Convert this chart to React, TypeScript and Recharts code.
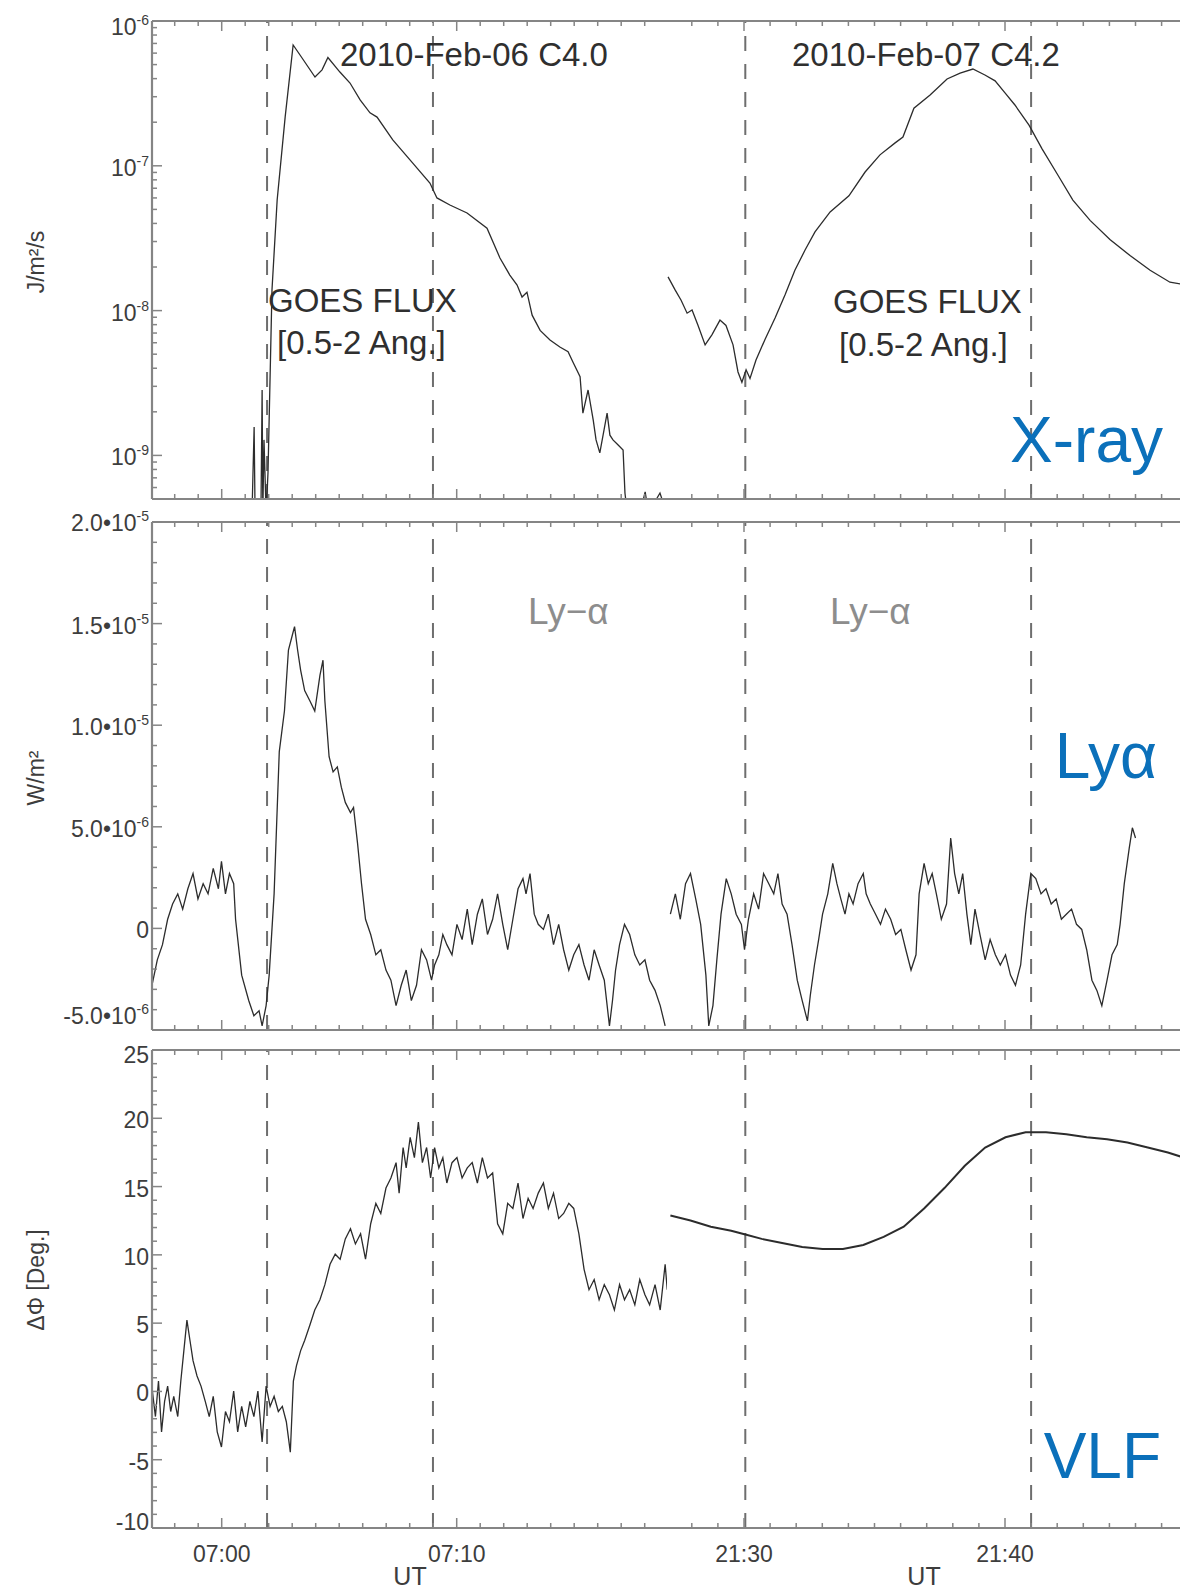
import React from 'react';
import { LineChart, Line, XAxis, YAxis, ReferenceLine } from 'recharts';

type Pt = [number, number];

// time axis: minutes after 07:00 UT (2010-02-06) and after 21:30 UT (2010-02-07)
const feb06Domain: [number, number] = [-2.966, 18.949];
const feb07Domain: [number, number] = [-2.95, 16.973];
const feb06Labels: Record<number, string> = { 0: '07:00', 10: '07:10' };
const feb07Labels: Record<number, string> = { 0: '21:30', 10: '21:40' };
const feb06Marks = [1.93, 8.99];
const feb07Marks = [0.05, 11.0];

// GOES 0.5-2 A flux, W/m^2 (J/m^2/s)
const xrayFeb06: Pt[] = [
  [1.29, 4e-10], [1.38, 1.57e-9], [1.42, 4e-10], [1.67, 4e-10], [1.72, 2.83e-9], [1.75, 4e-10],
  [1.8, 1.28e-9], [1.89, 4e-10], [1.97, 7.6e-10], [2.14, 1.39e-8], [2.36, 5.8e-8], [2.7, 2.17e-7],
  [3.04, 6.83e-7], [3.34, 5.8e-7], [3.97, 4.1e-7], [4.27, 4.6e-7], [4.52, 5.6e-7], [5.03, 4.44e-7],
  [5.46, 3.73e-7], [5.89, 2.85e-7], [6.31, 2.32e-7], [6.61, 2.17e-7], [7.28, 1.51e-7], [8.14, 1.04e-7],
  [8.86, 7.6e-8], [9.16, 6.0e-8], [9.71, 5.36e-8], [10.44, 4.72e-8], [11.29, 3.71e-8], [11.84, 2.31e-8],
  [12.26, 1.76e-8], [12.57, 1.5e-8], [12.78, 1.24e-8], [12.99, 1.34e-8], [13.21, 9.3e-9], [13.55, 7.3e-9],
  [13.97, 6.27e-9], [14.39, 5.6e-9], [14.74, 5.2e-9], [14.95, 4.4e-9], [15.25, 3.5e-9], [15.37, 1.96e-9],
  [15.59, 2.83e-9], [15.81, 1.75e-9], [15.93, 1.28e-9], [16.09, 1.04e-9], [16.27, 1.5e-9], [16.4, 1.96e-9],
  [16.52, 1.38e-9], [16.65, 1.28e-9], [16.87, 1.18e-9], [17.08, 1.09e-9], [17.16, 5.5e-10], [17.26, 4e-10],
  [17.8, 4e-10], [18.02, 5.6e-10], [18.16, 4e-10], [18.65, 5.5e-10], [18.93, 4e-10],
];
const xrayFeb07: Pt[] = [
  [-2.91, 1.71e-8], [-2.64, 1.39e-8], [-2.41, 1.18e-8], [-2.18, 9.6e-9], [-1.99, 1.01e-8], [-1.76, 7.9e-9],
  [-1.49, 5.8e-9], [-1.23, 6.8e-9], [-0.92, 8.6e-9], [-0.69, 7.9e-9], [-0.42, 5.8e-9], [-0.23, 3.77e-9],
  [-0.08, 3.2e-9], [0.08, 3.9e-9], [0.23, 3.4e-9], [0.46, 4.56e-9], [0.8, 6.3e-9], [1.19, 8.9e-9],
  [1.57, 1.28e-8], [1.95, 1.9e-8], [2.34, 2.62e-8], [2.72, 3.5e-8], [3.3, 4.8e-8], [4.02, 6.2e-8],
  [4.64, 9.06e-8], [5.21, 1.19e-7], [5.79, 1.44e-7], [6.09, 1.58e-7], [6.51, 2.5e-7], [7.13, 3.08e-7],
  [7.78, 3.98e-7], [8.28, 4.37e-7], [8.77, 4.66e-7], [9.23, 4.24e-7], [9.62, 3.86e-7], [10.0, 3.19e-7],
  [10.38, 2.63e-7], [10.92, 1.91e-7], [11.42, 1.31e-7], [12.03, 8.6e-8], [12.6, 5.8e-8], [13.26, 4.2e-8],
  [14.02, 3.1e-8], [14.79, 2.4e-8], [15.56, 1.9e-8], [16.32, 1.57e-8], [16.97, 1.5e-8],
];

// Lyman-alpha irradiance change, 1e-6 W/m^2
const lyaFeb06: Pt[] = [
  [-2.95, -2.7], [-2.74, -1.55], [-2.52, -0.8], [-2.3, 0.45], [-2.09, 1.2], [-1.87, 1.7], [-1.66, 0.95],
  [-1.44, 1.95], [-1.22, 2.7], [-1.01, 1.45], [-0.79, 2.2], [-0.58, 1.7], [-0.36, 2.95], [-0.14, 1.95],
  [-0.01, 3.3], [0.16, 1.7], [0.33, 2.7], [0.51, 2.2], [0.59, 0.45], [0.85, -2.3], [1.15, -3.55],
  [1.37, -4.3], [1.59, -4.05], [1.72, -4.8], [1.89, -3.8], [2.02, -2.3], [2.23, 1.7], [2.45, 8.7],
  [2.67, 10.7], [2.84, 13.7], [3.01, 14.45], [3.1, 14.85], [3.23, 13.7], [3.36, 12.7], [3.53, 11.7],
  [3.75, 11.2], [3.96, 10.7], [4.18, 12.45], [4.31, 13.2], [4.39, 11.2], [4.57, 8.45], [4.74, 7.7],
  [4.92, 7.95], [5.09, 6.95], [5.26, 6.2], [5.48, 5.7], [5.61, 5.95], [5.78, 4.2], [5.95, 2.2],
  [6.12, 0.45], [6.34, -0.3], [6.56, -1.3], [6.77, -1.05], [6.99, -2.05], [7.2, -2.55], [7.42, -3.8],
  [7.64, -2.8], [7.85, -2.05], [8.07, -3.55], [8.29, -2.8], [8.5, -1.05], [8.72, -1.55], [8.93, -2.55],
  [9.06, -1.8], [9.24, -1.3], [9.41, -0.3], [9.58, -0.8], [9.8, -1.3], [10.01, 0.2], [10.23, -0.55],
  [10.45, 0.95], [10.66, -0.8], [10.88, 0.7], [11.09, 1.45], [11.31, -0.3], [11.53, 0.45], [11.74, 1.7],
  [11.96, 0.2], [12.17, -1.05], [12.39, 0.45], [12.61, 1.95], [12.82, 2.45], [12.95, 1.7], [13.12, 2.7],
  [13.3, 0.7], [13.47, 0.2], [13.69, -0.05], [13.9, 0.7], [14.12, -0.8], [14.34, 0.2], [14.55, -1.05],
  [14.77, -2.05], [14.98, -1.3], [15.2, -0.8], [15.42, -1.8], [15.63, -2.55], [15.85, -1.05], [16.06, -1.8],
  [16.28, -2.55], [16.5, -4.8], [16.63, -3.55], [16.76, -2.05], [16.93, -0.8], [17.14, 0.2], [17.36, -0.3],
  [17.58, -1.3], [17.79, -1.8], [18.01, -1.55], [18.21, -2.55], [18.44, -3.05], [18.66, -3.8], [18.87, -4.8],
];
const lyaFeb07: Pt[] = [
  [-2.82, 0.7], [-2.63, 1.7], [-2.44, 0.45], [-2.24, 2.2], [-2.05, 2.7], [-1.85, 1.45], [-1.66, 0.2],
  [-1.46, -2.3], [-1.35, -4.8], [-1.19, -3.8], [-1.04, -1.55], [-0.88, 0.7], [-0.68, 2.45], [-0.49, 1.7],
  [-0.3, 0.7], [-0.1, 0.2], [0.02, -1.05], [0.17, 0.45], [0.37, 1.7], [0.56, 0.95], [0.75, 2.7],
  [0.95, 2.2], [1.14, 1.7], [1.3, 2.7], [1.46, 1.2], [1.65, 0.7], [1.84, -0.8], [2.04, -2.55],
  [2.23, -3.55], [2.43, -4.55], [2.54, -3.3], [2.7, -1.8], [2.86, -0.55], [3.01, 0.7], [3.21, 1.7],
  [3.4, 3.2], [3.56, 2.2], [3.71, 1.45], [3.87, 0.7], [4.02, 1.7], [4.18, 1.2], [4.37, 2.2], [4.57, 2.7],
  [4.68, 1.7], [4.84, 1.2], [5.04, 0.7], [5.23, 0.2], [5.42, 0.95], [5.62, 0.45], [5.81, -0.3],
  [6.01, -0.05], [6.2, -1.05], [6.4, -2.05], [6.59, -1.3], [6.71, 1.7], [6.9, 3.2], [7.06, 2.2],
  [7.21, 2.7], [7.37, 1.7], [7.56, 0.45], [7.76, 1.2], [7.92, 4.45], [8.07, 2.7], [8.23, 1.7], [8.38, 2.7],
  [8.54, 0.7], [8.69, -0.8], [8.85, 0.95], [9.04, -0.3], [9.24, -1.55], [9.43, -0.55], [9.63, -1.3],
  [9.82, -1.8], [10.02, -1.3], [10.21, -2.3], [10.4, -2.8], [10.6, -1.8], [10.79, 0.7], [10.99, 2.7],
  [11.18, 2.45], [11.38, 1.7], [11.57, 1.95], [11.77, 1.2], [11.96, 1.45], [12.16, 0.45], [12.35, 0.7],
  [12.55, 0.95], [12.74, 0.2], [12.94, -0.05], [13.13, -1.05], [13.33, -2.55], [13.52, -3.05], [13.71, -3.8],
  [13.91, -2.55], [14.1, -1.3], [14.3, -0.8], [14.41, 0.2], [14.57, 2.2], [14.76, 3.95], [14.88, 4.95],
  [15.0, 4.45],
];

// VLF phase change, degrees
const vlfFeb06: Pt[] = [
  [-2.95, 0.02], [-2.82, -1.84], [-2.69, 0.76], [-2.56, -2.96], [-2.43, -0.73], [-2.3, 0.39], [-2.17, -1.47],
  [-2.04, -0.36], [-1.87, -1.84], [-1.74, 0.76], [-1.61, 2.99], [-1.48, 5.22], [-1.35, 3.73], [-1.22, 2.25],
  [-1.05, 1.13], [-0.88, 0.39], [-0.7, -0.73], [-0.53, -1.84], [-0.36, -0.36], [-0.19, -2.96], [-0.01, -4.07],
  [0.16, -1.47], [0.33, -2.22], [0.51, 0.02], [0.68, -2.96], [0.85, -1.1], [1.02, -2.59], [1.2, -0.73],
  [1.37, -1.84], [1.54, 0.02], [1.72, -3.7], [1.89, 0.39], [2.06, -1.1], [2.23, -0.36], [2.41, -1.47],
  [2.58, -1.1], [2.75, -2.22], [2.92, -4.45], [3.05, 0.76], [3.18, 1.87], [3.36, 2.99], [3.53, 3.73],
  [3.75, 4.85], [3.96, 5.96], [4.18, 6.71], [4.39, 7.82], [4.61, 9.31], [4.83, 10.05], [5.04, 9.68],
  [5.26, 11.17], [5.48, 11.91], [5.69, 10.8], [5.91, 11.54], [6.12, 9.68], [6.34, 12.28], [6.56, 13.77],
  [6.77, 13.03], [6.99, 14.89], [7.2, 15.63], [7.42, 16.75], [7.55, 14.52], [7.72, 17.86], [7.85, 16.37],
  [8.02, 18.61], [8.2, 17.12], [8.37, 19.72], [8.54, 16.75], [8.72, 17.86], [8.89, 15.63], [9.06, 17.86],
  [9.24, 16.37], [9.41, 17.12], [9.58, 15.26], [9.8, 16.75], [10.01, 17.12], [10.23, 15.63], [10.45, 16.37],
  [10.66, 16.75], [10.88, 15.26], [11.09, 17.12], [11.31, 15.63], [11.53, 16.0], [11.74, 12.28], [11.96, 11.54],
  [12.17, 13.77], [12.39, 13.4], [12.61, 15.26], [12.82, 12.66], [13.04, 14.14], [13.25, 13.4], [13.47, 14.52],
  [13.69, 15.26], [13.9, 13.4], [14.12, 14.52], [14.34, 12.66], [14.55, 13.03], [14.77, 13.77], [14.98, 13.4],
  [15.2, 11.54], [15.42, 8.94], [15.63, 7.45], [15.85, 8.19], [16.06, 6.71], [16.28, 7.82], [16.5, 7.08],
  [16.71, 5.96], [16.93, 7.82], [17.14, 6.71], [17.36, 7.45], [17.58, 6.34], [17.79, 8.19], [18.01, 7.08],
  [18.21, 6.34], [18.44, 7.82], [18.66, 5.96], [18.87, 9.31], [18.96, 7.45],
];
const vlfFeb07: Pt[] = [
  [-2.82, 12.88], [-2.05, 12.51], [-1.27, 12.06], [-0.49, 11.76], [0.09, 11.47], [0.68, 11.17], [1.46, 10.87],
  [2.23, 10.57], [3.01, 10.43], [3.79, 10.43], [4.57, 10.72], [5.35, 11.32], [6.12, 12.06], [6.9, 13.4],
  [7.68, 14.89], [8.46, 16.52], [9.24, 17.86], [10.02, 18.61], [10.79, 18.98], [11.57, 18.98], [12.35, 18.83],
  [13.13, 18.61], [13.91, 18.46], [14.69, 18.23], [15.47, 17.86], [16.24, 17.49], [16.97, 17.05],
];

const xrayMajors = [1e-9, 1e-8, 1e-7, 1e-6];
const lyaMajors = [-5, 0, 5, 10, 15, 20];
const lyaLabels: Record<number, [string, string]> = {
  20: ['2.0•10', '-5'], 15: ['1.5•10', '-5'], 10: ['1.0•10', '-5'],
  5: ['5.0•10', '-6'], 0: ['0', ''], [-5]: ['-5.0•10', '-6'],
};
const vlfMajors = [-10, -5, 0, 5, 10, 15, 20, 25];

const FONT = '"Liberation Sans", Arial, Helvetica, sans-serif';
const AXIS = '#858585';
const INK = '#3d3d3d';
const TRACE = '#2c2c2c';
const BLUE = '#0b70ba';

const PLOT_LEFT = 152;
const BREAK_X = 667;
const PLOT_RIGHT = 1187;
const PAD = 24;

const range = (a: number, b: number, step = 1) =>
  Array.from({ length: Math.round((b - a) / step) + 1 }, (_, i) => a + i * step);

const xrayMinors = [1e-10, 1e-9, 1e-8, 1e-7].flatMap((d) =>
  range(2, 9).map((k) => k * d).filter((v) => v > 5.5e-10)
);

type YSpec = {
  domain: [number, number];
  log?: boolean;
  majors: number[];
  ticks: number[];
  topShift: number;
  bottomShift: number;
  label: (v: number) => React.ReactNode;
};

const xraySpec: YSpec = {
  domain: [5e-10, 1e-6],
  log: true,
  majors: xrayMajors,
  ticks: [...xrayMinors, ...xrayMajors],
  topShift: 6,
  bottomShift: 0,
  label: (v) => (
    <>
      <tspan>10</tspan>
      <tspan dy={-10} fontSize={14}>{String(Math.round(Math.log10(v)))}</tspan>
    </>
  ),
};

const lyaSpec: YSpec = {
  domain: [-5, 20],
  majors: lyaMajors,
  ticks: range(-5, 20),
  topShift: 1,
  bottomShift: -14,
  label: (v) => (
    <>
      <tspan>{lyaLabels[v][0]}</tspan>
      {lyaLabels[v][1] && <tspan dy={-10} fontSize={14}>{lyaLabels[v][1]}</tspan>}
    </>
  ),
};

const vlfSpec: YSpec = {
  domain: [-10, 25],
  majors: vlfMajors,
  ticks: range(-10, 25),
  topShift: 5,
  bottomShift: -6,
  label: (v) => <tspan>{String(v)}</tspan>,
};

type XSpec = {
  domain: [number, number];
  ticks: number[];
  labels: Record<number, string>;
  marks: number[];
};

const feb06: XSpec = { domain: feb06Domain, ticks: range(-2, 18), labels: feb06Labels, marks: feb06Marks };
const feb07: XSpec = { domain: feb07Domain, ticks: range(-2, 16), labels: feb07Labels, marks: feb07Marks };

function HalfPanel({
  left,
  plotTop,
  plotBottom,
  series,
  y,
  xs,
  withTimeLabels,
  traceWidth = 1.3,
}: {
  left: boolean;
  plotTop: number;
  plotBottom: number;
  series: Pt[];
  y: YSpec;
  xs: XSpec;
  withTimeLabels: boolean;
  traceWidth?: number;
}) {
  const rows = series.map(([t, v]) => ({ t, v }));
  const bottomPad = withTimeLabels ? 64 : PAD;
  const width = left ? BREAK_X : PLOT_RIGHT - BREAK_X + PAD;
  const height = plotBottom - plotTop + PAD + bottomPad;
  const tickColor = left ? AXIS : '#b8b8b8';

  const xTick = (dir: 1 | -1, labelled: boolean) => (p: any) => {
    const major = xs.labels[p.payload.value] !== undefined;
    const len = major ? 10 : 5;
    return (
      <g>
        <line x1={p.x} x2={p.x} y1={p.y} y2={p.y + dir * len} stroke={AXIS} strokeWidth={1.5} />
        {labelled && major && (
          <text x={p.x} y={p.y + 34} textAnchor="middle" fontSize={23} fill={INK} fontFamily={FONT}>
            {xs.labels[p.payload.value]}
          </text>
        )}
      </g>
    );
  };

  const yTick = (p: any) => {
    const v = p.payload.value;
    const major = y.majors.includes(v);
    const len = major ? 10 : 5;
    if (!left) {
      return <line x1={p.x} x2={p.x - len * 0.7} y1={p.y} y2={p.y} stroke={tickColor} strokeWidth={1.5} />;
    }
    let shift = 2;
    if (v === y.domain[1]) shift = y.topShift;
    if (v === y.domain[0]) shift = y.bottomShift;
    return (
      <g>
        <line x1={p.x} x2={p.x + len} y1={p.y} y2={p.y} stroke={AXIS} strokeWidth={1.5} />
        {major && (
          <text x={p.x - 3} y={p.y + shift + 8} textAnchor="end" fontSize={23} fill={INK} fontFamily={FONT}>
            {y.label(v)}
          </text>
        )}
      </g>
    );
  };

  // the time axes are 1px tall boxes, so the margins give up that pixel
  return (
    <div style={{ position: 'absolute', left: left ? 0 : BREAK_X - PAD, top: plotTop - PAD }}>
      <LineChart
        width={width}
        height={height}
        data={rows}
        margin={{ top: PAD - 1, right: 0, bottom: bottomPad - 1, left: left ? 0 : PAD }}
      >
        <XAxis
          xAxisId={0}
          type="number"
          dataKey="t"
          domain={xs.domain}
          allowDataOverflow
          ticks={xs.ticks}
          interval={0}
          height={1}
          tickSize={0}
          tickMargin={0}
          tickLine={false}
          axisLine={{ stroke: AXIS, strokeWidth: 2.2 }}
          tick={xTick(-1, withTimeLabels)}
        />
        <XAxis
          xAxisId="top"
          orientation="top"
          type="number"
          dataKey="t"
          domain={xs.domain}
          allowDataOverflow
          ticks={xs.ticks}
          interval={0}
          height={1}
          tickSize={0}
          tickMargin={0}
          tickLine={false}
          axisLine={{ stroke: AXIS, strokeWidth: 2.2 }}
          tick={xTick(1, false)}
        />
        <YAxis
          type="number"
          scale={y.log ? 'log' : 'linear'}
          domain={y.domain}
          allowDataOverflow
          ticks={y.ticks}
          interval={0}
          width={left ? PLOT_LEFT : 0}
          tickSize={0}
          tickMargin={0}
          tickLine={false}
          axisLine={
            left
              ? { stroke: AXIS, strokeWidth: 2.2 }
              : { stroke: '#b4b4b4', strokeWidth: 1.5, strokeDasharray: '2 2' }
          }
          tick={yTick}
        />
        {xs.marks.map((m) => (
          <ReferenceLine key={m} x={m} stroke="#6e6e6e" strokeWidth={2} strokeDasharray="15 13" />
        ))}
        <Line
          type="linear"
          dataKey="v"
          stroke={TRACE}
          strokeWidth={traceWidth}
          dot={false}
          activeDot={false}
          isAnimationActive={false}
        />
      </LineChart>
    </div>
  );
}

const rowsLayout = [
  { top: 21, bottom: 499, y: xraySpec, feb06: xrayFeb06, feb07: xrayFeb07, last: false },
  { top: 522, bottom: 1030, y: lyaSpec, feb06: lyaFeb06, feb07: lyaFeb07, last: false },
  { top: 1050, bottom: 1528, y: vlfSpec, feb06: vlfFeb06, feb07: vlfFeb07, last: true },
];

export default function App() {
  return (
    <div
      style={{
        position: 'absolute',
        left: 0,
        top: 0,
        width: 1180,
        height: 1592,
        overflow: 'hidden',
        background: '#fff',
      }}
    >
      {rowsLayout.map((r, i) => (
        <React.Fragment key={i}>
          <HalfPanel left plotTop={r.top} plotBottom={r.bottom} series={r.feb06} y={r.y} xs={feb06} withTimeLabels={r.last} />
          <HalfPanel
            left={false}
            plotTop={r.top}
            plotBottom={r.bottom}
            series={r.feb07}
            y={r.y}
            xs={feb07}
            withTimeLabels={r.last}
            traceWidth={r.last ? 2 : 1.3}
          />
        </React.Fragment>
      ))}
      <svg
        width={1180}
        height={1592}
        style={{ position: 'absolute', left: 0, top: 0, pointerEvents: 'none' }}
        fontFamily={FONT}
      >
        <g fill="#2f2f2f" fontSize={33}>
          <text x={340} y={66}>2010-Feb-06 C4.0</text>
          <text x={792} y={66}>2010-Feb-07 C4.2</text>
          <text x={268} y={312}>GOES FLUX</text>
          <text x={277} y={354}>[0.5-2 Ang.]</text>
          <text x={833} y={313}>GOES FLUX</text>
          <text x={839} y={356}>[0.5-2 Ang.]</text>
        </g>
        <g fill="#8d8d8d" fontSize={37}>
          <text x={528} y={624}>Ly−α</text>
          <text x={830} y={624}>Ly−α</text>
        </g>
        <g fill={BLUE} fontSize={64} textAnchor="end">
          <text x={1163} y={462}>X-ray</text>
          <text x={1157} y={778}>Lyα</text>
          <text x={1161} y={1478}>VLF</text>
        </g>
        <g fill={INK} fontSize={23} textAnchor="middle">
          <text transform="translate(36,262) rotate(-90)" dominantBaseline="central">J/m²/s</text>
          <text transform="translate(36,778) rotate(-90)" dominantBaseline="central">W/m²</text>
          <text transform="translate(36,1280) rotate(-90)" dominantBaseline="central">ΔΦ [Deg.]</text>
          <text x={410} y={1585} fontSize={25}>UT</text>
          <text x={924} y={1585} fontSize={25}>UT</text>
        </g>
      </svg>
    </div>
  );
}
